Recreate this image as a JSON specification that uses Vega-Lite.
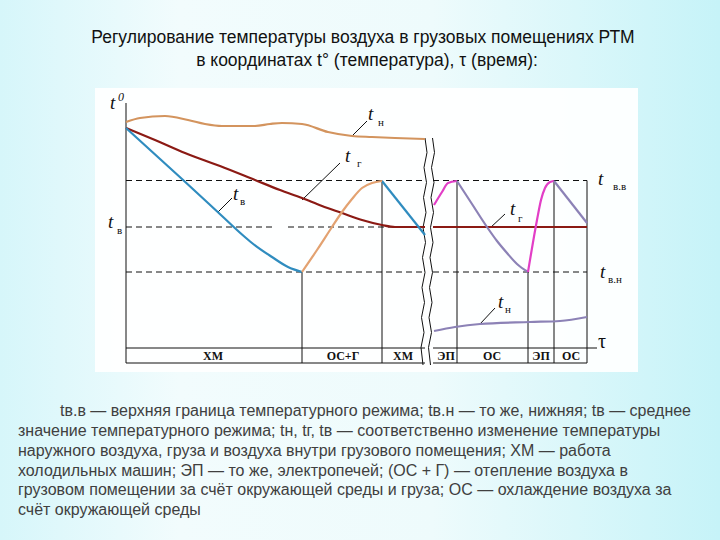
{
  "$schema": "https://vega.github.io/schema/vega-lite/v6.json",
  "width": 720,
  "height": 540,
  "autosize": {"type": "fit", "contains": "padding"},
  "padding": 0,
  "background": "#e8f9fb",
  "config": {"view": {"stroke": null}},
  "datasets": {
    "panels": [
      {"name": "bg", "tau": -25, "t": 146, "tau2": 119, "t2": -70},
      {"name": "panel", "tau": -6, "t": 110.8, "tau2": 102.6, "t2": -2.8}
    ],
    "solid": [
      {"tau": 0.2, "t": 104.8, "tau2": 0.2, "t2": 0.8},
      {"tau": 35.4, "t": 37.2, "tau2": 35.4, "t2": 0.8},
      {"tau": 51.4, "t": 73.8, "tau2": 51.4, "t2": 0.8},
      {"tau": 66.4, "t": 73.8, "tau2": 66.4, "t2": 0.8},
      {"tau": 80.6, "t": 37.2, "tau2": 80.6, "t2": 0.8},
      {"tau": 85.8, "t": 73.8, "tau2": 85.8, "t2": 0.8},
      {"tau": 92.4, "t": 73.8, "tau2": 92.4, "t2": 0.8},
      {"tau": 0.2, "t": 6.8, "tau2": 60, "t2": 6.8},
      {"tau": 61.6, "t": 6.8, "tau2": 94.4, "t2": 6.8},
      {"tau": 0.2, "t": 0.8, "tau2": 60, "t2": 0.8},
      {"tau": 61.6, "t": 0.8, "tau2": 92.4, "t2": 0.8},
      {"tau": 45.4, "t": 91.6, "tau2": 48.4, "t2": 97.6},
      {"tau": 35.4, "t": 66, "tau2": 43, "t2": 80.8},
      {"tau": 18.6, "t": 61.2, "tau2": 21.4, "t2": 66.8},
      {"tau": 73, "t": 54.8, "tau2": 76, "t2": 60.4},
      {"tau": 71, "t": 16.4, "tau2": 74, "t2": 22.8}
    ],
    "dashed": [
      {"tau": 0.2, "t": 73.8, "tau2": 60, "t2": 73.8},
      {"tau": 61.6, "t": 73.8, "tau2": 92.4, "t2": 73.8},
      {"tau": 0.2, "t": 55.2, "tau2": 30, "t2": 55.2},
      {"tau": 32.6, "t": 55.2, "tau2": 60, "t2": 55.2},
      {"tau": 0.2, "t": 37.2, "tau2": 60, "t2": 37.2},
      {"tau": 61.6, "t": 37.2, "tau2": 92.4, "t2": 37.2}
    ],
    "wavy": [
      {"w": "L", "i": 0, "tau": 60.0, "t": 90.8}, {"w": "L", "i": 1, "tau": 60.4, "t": 85},
      {"w": "L", "i": 2, "tau": 59.8, "t": 79}, {"w": "L", "i": 3, "tau": 60.3, "t": 73},
      {"w": "L", "i": 4, "tau": 59.7, "t": 67}, {"w": "L", "i": 5, "tau": 60.2, "t": 61},
      {"w": "L", "i": 6, "tau": 59.6, "t": 55}, {"w": "L", "i": 7, "tau": 60.1, "t": 49},
      {"w": "L", "i": 8, "tau": 59.5, "t": 43}, {"w": "L", "i": 9, "tau": 60.0, "t": 37},
      {"w": "L", "i": 10, "tau": 59.4, "t": 31}, {"w": "L", "i": 11, "tau": 59.9, "t": 25},
      {"w": "L", "i": 12, "tau": 59.3, "t": 19}, {"w": "L", "i": 13, "tau": 59.8, "t": 13},
      {"w": "L", "i": 14, "tau": 59.2, "t": 7}, {"w": "L", "i": 15, "tau": 59.6, "t": 0},
      {"w": "R", "i": 0, "tau": 61.5, "t": 90.8}, {"w": "R", "i": 1, "tau": 61.9, "t": 85},
      {"w": "R", "i": 2, "tau": 61.3, "t": 79}, {"w": "R", "i": 3, "tau": 61.8, "t": 73},
      {"w": "R", "i": 4, "tau": 61.2, "t": 67}, {"w": "R", "i": 5, "tau": 61.7, "t": 61},
      {"w": "R", "i": 6, "tau": 61.1, "t": 55}, {"w": "R", "i": 7, "tau": 61.6, "t": 49},
      {"w": "R", "i": 8, "tau": 61.0, "t": 43}, {"w": "R", "i": 9, "tau": 61.5, "t": 37},
      {"w": "R", "i": 10, "tau": 60.9, "t": 31}, {"w": "R", "i": 11, "tau": 61.4, "t": 25},
      {"w": "R", "i": 12, "tau": 60.8, "t": 19}, {"w": "R", "i": 13, "tau": 61.3, "t": 13},
      {"w": "R", "i": 14, "tau": 60.7, "t": 7}, {"w": "R", "i": 15, "tau": 61.1, "t": 0}
    ],
    "curves": [
      {"curve": "tn", "seg": "tn1", "tau": 0.2, "t": 97.2}, {"curve": "tn", "seg": "tn1", "tau": 3, "t": 98.8},
      {"curve": "tn", "seg": "tn1", "tau": 8, "t": 99.6}, {"curve": "tn", "seg": "tn1", "tau": 12.6, "t": 98},
      {"curve": "tn", "seg": "tn1", "tau": 16, "t": 96.4}, {"curve": "tn", "seg": "tn1", "tau": 19.4, "t": 95.6},
      {"curve": "tn", "seg": "tn1", "tau": 26, "t": 95.6}, {"curve": "tn", "seg": "tn1", "tau": 29, "t": 96.4},
      {"curve": "tn", "seg": "tn1", "tau": 31.4, "t": 96.8}, {"curve": "tn", "seg": "tn1", "tau": 35.4, "t": 96.4},
      {"curve": "tn", "seg": "tn1", "tau": 40.6, "t": 93.2}, {"curve": "tn", "seg": "tn1", "tau": 45.4, "t": 91.6},
      {"curve": "tn", "seg": "tn1", "tau": 49.4, "t": 91.2}, {"curve": "tn", "seg": "tn1", "tau": 54, "t": 90.8},
      {"curve": "tn", "seg": "tn1", "tau": 60, "t": 90.4},
      {"curve": "tg", "seg": "tg1", "tau": 0.2, "t": 94.8}, {"curve": "tg", "seg": "tg1", "tau": 6, "t": 90},
      {"curve": "tg", "seg": "tg1", "tau": 12, "t": 84.8}, {"curve": "tg", "seg": "tg1", "tau": 19, "t": 79.6},
      {"curve": "tg", "seg": "tg1", "tau": 26, "t": 74}, {"curve": "tg", "seg": "tg1", "tau": 31, "t": 70},
      {"curve": "tg", "seg": "tg1", "tau": 35.4, "t": 66.8}, {"curve": "tg", "seg": "tg1", "tau": 39.4, "t": 63.6},
      {"curve": "tg", "seg": "tg1", "tau": 43.4, "t": 60.8}, {"curve": "tg", "seg": "tg1", "tau": 47.4, "t": 58},
      {"curve": "tg", "seg": "tg1", "tau": 51.4, "t": 56}, {"curve": "tg", "seg": "tg1", "tau": 54, "t": 55.2},
      {"curve": "tg", "seg": "tg1", "tau": 60, "t": 55.2},
      {"curve": "tg", "seg": "tg2", "tau": 61.6, "t": 55.2}, {"curve": "tg", "seg": "tg2", "tau": 92.4, "t": 55.2},
      {"curve": "tv", "seg": "tv1", "tau": 0.2, "t": 94.8}, {"curve": "tv", "seg": "tv1", "tau": 11.4, "t": 74.4},
      {"curve": "tv", "seg": "tv1", "tau": 19.4, "t": 59.6}, {"curve": "tv", "seg": "tv1", "tau": 23.4, "t": 52.2},
      {"curve": "tv", "seg": "tv1", "tau": 25.4, "t": 48.8}, {"curve": "tv", "seg": "tv1", "tau": 29.4, "t": 43.2},
      {"curve": "tv", "seg": "tv1", "tau": 32.6, "t": 39.2}, {"curve": "tv", "seg": "tv1", "tau": 35.4, "t": 37.2},
      {"curve": "tv", "seg": "tv2", "tau": 51.4, "t": 73.6}, {"curve": "tv", "seg": "tv2", "tau": 60, "t": 52},
      {"curve": "og", "seg": "og1", "tau": 35.4, "t": 37.2}, {"curve": "og", "seg": "og1", "tau": 38.4, "t": 46},
      {"curve": "og", "seg": "og1", "tau": 41.4, "t": 55.2}, {"curve": "og", "seg": "og1", "tau": 43.4, "t": 61.2},
      {"curve": "og", "seg": "og1", "tau": 45.4, "t": 66.4}, {"curve": "og", "seg": "og1", "tau": 47.4, "t": 70.8},
      {"curve": "og", "seg": "og1", "tau": 49.4, "t": 72.8}, {"curve": "og", "seg": "og1", "tau": 51.4, "t": 73.6},
      {"curve": "mg", "seg": "mg1", "tau": 61.8, "t": 64}, {"curve": "mg", "seg": "mg1", "tau": 63.4, "t": 69.2},
      {"curve": "mg", "seg": "mg1", "tau": 64.6, "t": 72.8}, {"curve": "mg", "seg": "mg1", "tau": 66.4, "t": 73.6},
      {"curve": "pg", "seg": "pg1", "tau": 66.4, "t": 73.6}, {"curve": "pg", "seg": "pg1", "tau": 69.4, "t": 64.4},
      {"curve": "pg", "seg": "pg1", "tau": 72.4, "t": 55.2}, {"curve": "pg", "seg": "pg1", "tau": 74.4, "t": 49.6},
      {"curve": "pg", "seg": "pg1", "tau": 76.4, "t": 44.8}, {"curve": "pg", "seg": "pg1", "tau": 78.4, "t": 40.4},
      {"curve": "pg", "seg": "pg1", "tau": 80.6, "t": 37.2},
      {"curve": "mg", "seg": "mg2", "tau": 80.6, "t": 37.2}, {"curve": "mg", "seg": "mg2", "tau": 82.4, "t": 58},
      {"curve": "mg", "seg": "mg2", "tau": 83.2, "t": 66}, {"curve": "mg", "seg": "mg2", "tau": 84, "t": 70.8},
      {"curve": "mg", "seg": "mg2", "tau": 85, "t": 73.2}, {"curve": "mg", "seg": "mg2", "tau": 85.8, "t": 73.6},
      {"curve": "pg", "seg": "pg2", "tau": 85.8, "t": 73.6}, {"curve": "pg", "seg": "pg2", "tau": 92.4, "t": 56.8},
      {"curve": "pg", "seg": "pg3", "tau": 61.8, "t": 13.6}, {"curve": "pg", "seg": "pg3", "tau": 66, "t": 15.2},
      {"curve": "pg", "seg": "pg3", "tau": 71, "t": 16.4}, {"curve": "pg", "seg": "pg3", "tau": 81, "t": 17.2},
      {"curve": "pg", "seg": "pg3", "tau": 87, "t": 17.6}, {"curve": "pg", "seg": "pg3", "tau": 92.4, "t": 19.2}
    ],
    "labels": [
      {"kind": "ti", "label": "t", "tau": -3, "t": 102.4},
      {"kind": "ti", "label": "t", "tau": 48.6, "t": 98},
      {"kind": "ti", "label": "t", "tau": 44, "t": 81.2},
      {"kind": "ti", "label": "t", "tau": 21.6, "t": 66},
      {"kind": "ti", "label": "t", "tau": -3.4, "t": 54.8},
      {"kind": "ti", "label": "t", "tau": 94.6, "t": 72},
      {"kind": "ti", "label": "t", "tau": 77, "t": 60},
      {"kind": "ti", "label": "t", "tau": 95, "t": 34.8},
      {"kind": "ti", "label": "t", "tau": 74.6, "t": 22.8},
      {"kind": "sup", "label": "0", "tau": -1.4, "t": 105.6},
      {"kind": "sub", "label": "н", "tau": 50.6, "t": 95.6},
      {"kind": "sub", "label": "г", "tau": 46.4, "t": 79.2},
      {"kind": "sub", "label": "в", "tau": 23, "t": 64},
      {"kind": "sub", "label": "в", "tau": -1.6, "t": 52.4},
      {"kind": "sub", "label": "в.в", "tau": 97.6, "t": 70},
      {"kind": "sub", "label": "г", "tau": 78.6, "t": 57.2},
      {"kind": "sub", "label": "в.н", "tau": 96.6, "t": 32.8},
      {"kind": "sub", "label": "н", "tau": 76, "t": 20.8},
      {"kind": "tau", "label": "τ", "tau": 94.6, "t": 6.8},
      {"kind": "band", "label": "ХМ", "tau": 17.6, "t": 2},
      {"kind": "band", "label": "ОС+Г", "tau": 43.6, "t": 2},
      {"kind": "band", "label": "ХМ", "tau": 55.6, "t": 2},
      {"kind": "band", "label": "ЭП", "tau": 64.2, "t": 2},
      {"kind": "band", "label": "ОС", "tau": 73.4, "t": 2},
      {"kind": "band", "label": "ЭП", "tau": 83.2, "t": 2},
      {"kind": "band", "label": "ОС", "tau": 89.2, "t": 2},
      {"kind": "title", "label": "Регулирование температуры воздуха в грузовых помещениях РТМ", "tau": 47.6, "t": 128.8},
      {"kind": "title", "label": "в координатах t° (температура), τ (время):", "tau": 48.4, "t": 119.6},
      {"kind": "cap", "label": "tв.в — верхняя граница температурного режима; tв.н — то же, нижняя; tв — среднее", "tau": -13, "t": -20.4},
      {"kind": "cap", "label": "значение температурного режима; tн, tг, tв — соответственно изменение температуры", "tau": -21.4, "t": -28.4},
      {"kind": "cap", "label": "наружного воздуха, груза и воздуха внутри грузового помещения; ХМ — работа", "tau": -21.4, "t": -36.4},
      {"kind": "cap", "label": "холодильных машин; ЭП — то же, электропечей; (ОС + Г) — отепление воздуха в", "tau": -21.4, "t": -44.4},
      {"kind": "cap", "label": "грузовом помещении за счёт окружающей среды и груза; ОС — охлаждение воздуха за", "tau": -21.4, "t": -52},
      {"kind": "cap", "label": "счёт окружающей среды", "tau": -21.4, "t": -60}
    ]
  },
  "encoding": {
    "x": {"field": "tau", "type": "quantitative", "scale": {"domain": [-25, 119], "nice": false, "zero": false}, "axis": null},
    "y": {"field": "t", "type": "quantitative", "scale": {"domain": [-70, 146], "nice": false, "zero": false}, "axis": null}
  },
  "layer": [
    {
      "data": {"name": "panels"},
      "transform": [{"filter": "datum.name === 'bg'"}],
      "mark": {"type": "rect", "fill": {"gradient": "linear", "x1": 0, "x2": 1, "y1": 0, "y2": 0, "stops": [{"offset": 0, "color": "#d6f6fa"}, {"offset": 0.25, "color": "#f2fcfd"}, {"offset": 0.6, "color": "#eefbfc"}, {"offset": 1, "color": "#c6f3f8"}]}},
      "encoding": {"x2": {"field": "tau2"}, "y2": {"field": "t2"}}
    },
    {
      "data": {"name": "panels"},
      "transform": [{"filter": "datum.name === 'panel'"}],
      "mark": {"type": "rect", "fill": "#ffffff", "opacity": 0.92},
      "encoding": {"x2": {"field": "tau2"}, "y2": {"field": "t2"}}
    },
    {
      "data": {"name": "dashed"},
      "mark": {"type": "rule", "color": "#111111", "strokeWidth": 1, "strokeDash": [6, 4]},
      "encoding": {"x2": {"field": "tau2"}, "y2": {"field": "t2"}}
    },
    {
      "data": {"name": "solid"},
      "mark": {"type": "rule", "color": "#111111", "strokeWidth": 1},
      "encoding": {"x2": {"field": "tau2"}, "y2": {"field": "t2"}}
    },
    {
      "data": {"name": "wavy"},
      "mark": {"type": "line", "color": "#111111", "strokeWidth": 1},
      "encoding": {"detail": {"field": "w"}, "order": {"field": "i"}}
    },
    {
      "data": {"name": "curves"},
      "mark": {"type": "line", "strokeWidth": 2.2, "interpolate": "monotone"},
      "encoding": {
        "detail": {"field": "seg"},
        "color": {"field": "curve", "type": "nominal", "legend": null,
          "scale": {"domain": ["tn", "tg", "tv", "og", "mg", "pg"], "range": ["#d3945e", "#8b1a14", "#2f8cbf", "#e3a271", "#e23ec6", "#8c82b6"]}}
      }
    },
    {
      "data": {"name": "labels"},
      "transform": [{"filter": "datum.kind === 'ti'"}],
      "mark": {"type": "text", "font": "Liberation Serif", "fontStyle": "italic", "fontSize": 19, "align": "left", "baseline": "alphabetic", "color": "#111111"},
      "encoding": {"text": {"field": "label"}}
    },
    {
      "data": {"name": "labels"},
      "transform": [{"filter": "datum.kind === 'sup'"}],
      "mark": {"type": "text", "font": "Liberation Serif", "fontStyle": "italic", "fontSize": 12, "align": "left", "baseline": "alphabetic", "color": "#111111"},
      "encoding": {"text": {"field": "label"}}
    },
    {
      "data": {"name": "labels"},
      "transform": [{"filter": "datum.kind === 'sub'"}],
      "mark": {"type": "text", "font": "Liberation Serif", "fontSize": 11, "align": "left", "baseline": "alphabetic", "color": "#111111"},
      "encoding": {"text": {"field": "label"}}
    },
    {
      "data": {"name": "labels"},
      "transform": [{"filter": "datum.kind === 'tau'"}],
      "mark": {"type": "text", "font": "Liberation Serif", "fontSize": 20, "align": "left", "baseline": "alphabetic", "color": "#111111"},
      "encoding": {"text": {"field": "label"}}
    },
    {
      "data": {"name": "labels"},
      "transform": [{"filter": "datum.kind === 'band'"}],
      "mark": {"type": "text", "font": "Liberation Serif", "fontWeight": "bold", "fontSize": 12, "align": "center", "baseline": "alphabetic", "color": "#111111"},
      "encoding": {"text": {"field": "label"}}
    },
    {
      "data": {"name": "labels"},
      "transform": [{"filter": "datum.kind === 'title'"}],
      "mark": {"type": "text", "font": "Liberation Sans", "fontSize": 17.5, "align": "center", "baseline": "alphabetic", "color": "#111111"},
      "encoding": {"text": {"field": "label"}}
    },
    {
      "data": {"name": "labels"},
      "transform": [{"filter": "datum.kind === 'cap'"}],
      "mark": {"type": "text", "font": "Liberation Sans", "fontSize": 16, "align": "left", "baseline": "alphabetic", "color": "#404040"},
      "encoding": {"text": {"field": "label"}}
    }
  ]
}
